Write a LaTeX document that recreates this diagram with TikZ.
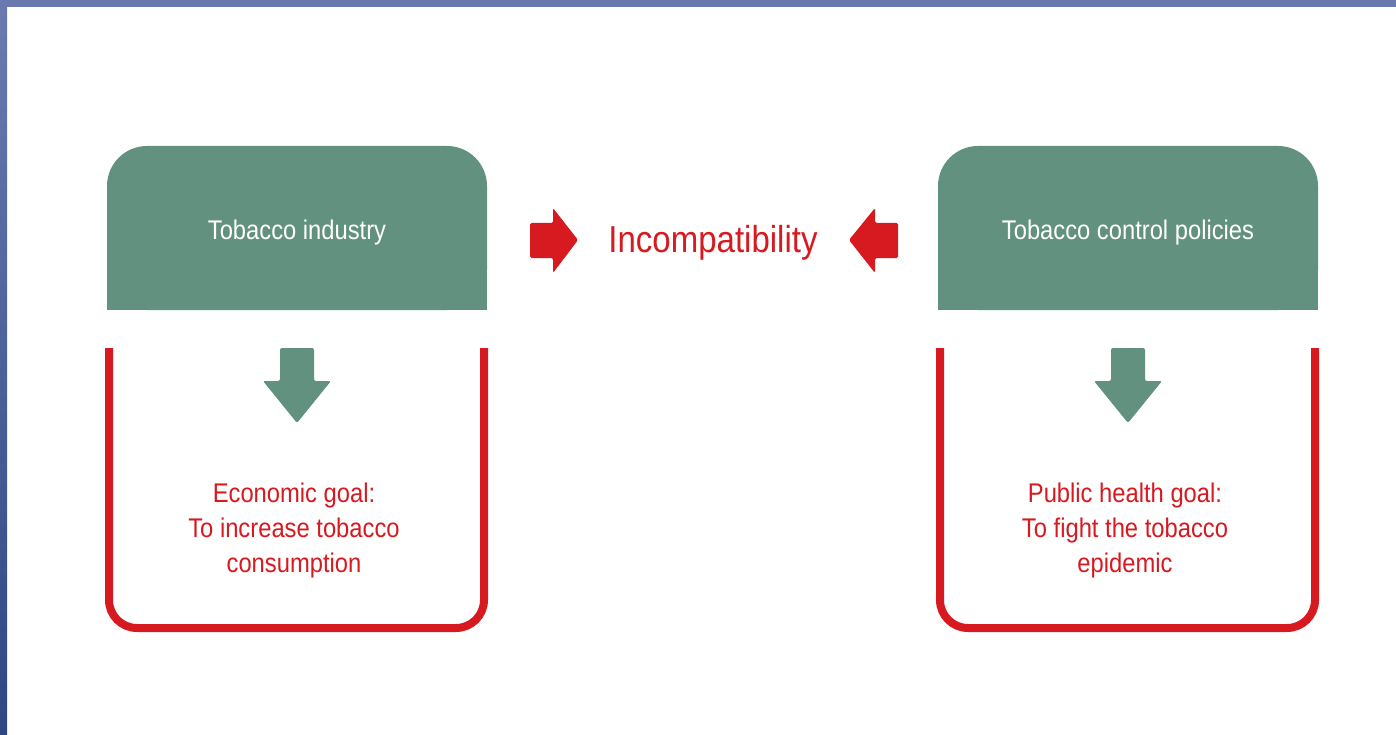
\documentclass[tikz,border=0pt]{standalone}
\usepackage{fontspec}
\setmainfont{Liberation Sans}[FakeStretch=0.88]
\usetikzlibrary{positioning}
\definecolor{boxgreen}{HTML}{62927F}
\definecolor{goalred}{HTML}{D71920}
\definecolor{framedark}{HTML}{2D4781}
\definecolor{framemid}{HTML}{6A7AAF}
\definecolor{framelight}{HTML}{8A9AC8}
\tikzset{titlebox/.style={fill=boxgreen, rounded corners=40pt,
        minimum width=380pt, minimum height=164pt, inner sep=0pt},
    titletext/.style={text=white, font=\fontsize{27}{33}\selectfont, anchor=base},
    goaltext/.style={text=goalred, font=\fontsize{27}{35}\selectfont, align=center},
    goalline/.style={draw=goalred, line width=8pt, rounded corners=28pt},
    pointer/.style={fill=goalred, rounded corners=1.5pt}}

\begin{document}
\begin{tikzpicture}[x=1pt, y=-1pt]
    % page and frame
    \useasboundingbox[fill=white] (0,0) rectangle (1396,735);
    \shade[top color=framemid, bottom color=framedark] (0,0) rectangle (7,735);
    \shade[left color=framemid, middle color=framelight, right color=framemid] (0,0) rectangle (1396,7);

    % the two green title boxes
    \node[titlebox] (industry) at (297,228) {};
    \node[titlebox] (policies) at (1128,228) {};
    \fill[boxgreen] (industry.west) rectangle (industry.south east);
    \fill[boxgreen] (policies.west) rectangle (policies.south east);
    \node[titletext] (industrylabel) at (297,240) {Tobacco industry};
    \node[titletext] (policieslabel) at (1128,240) {Tobacco control policies};

    % red goal frames with the green arrows
    \foreach \cx in {297,1128} {
        \draw[goalline] (\cx-188,348) -- (\cx-188,628) -- (\cx+187,628) -- (\cx+187,348);
        \fill[boxgreen, rounded corners=2pt] (\cx-17,348) -- (\cx+17,348) -- (\cx+17,381)
            -- (\cx+34,381) -- (\cx,423) -- (\cx-34,381) -- (\cx-17,381) -- cycle;
    }
    \node[goaltext] (economic) at (294,531) {Economic goal:\\To increase tobacco\\consumption};
    \node[goaltext] (health) at (1125,531) {Public health goal:\\To fight the tobacco\\epidemic};

    % incompatibility in the middle
    \node[text=goalred, font=\fontsize{37.5}{40}\selectfont, anchor=base] (incompat) at (713,252) {Incompatibility};
    \fill[pointer] (530,223) -- (553,223) -- (553,208) -- (578,240) -- (553,273) -- (553,258) -- (530,258) -- cycle;
    \fill[pointer] (898,223) -- (875,223) -- (875,208) -- (849,240) -- (875,273) -- (875,258) -- (898,258) -- cycle;
\end{tikzpicture}
\end{document}
